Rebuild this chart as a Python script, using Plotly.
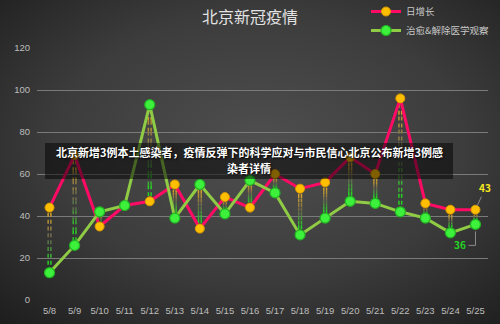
import base64
import plotly.graph_objects as go

dates = ["5/8", "5/9", "5/10", "5/11", "5/12", "5/13", "5/14", "5/15", "5/16",
         "5/17", "5/18", "5/19", "5/20", "5/21", "5/22", "5/23", "5/24", "5/25"]
daily_growth = [44, 69, 35, 45, 47, 55, 34, 49, 44, 60, 53, 56, 68, 60, 96, 46, 43, 43]
recovered = [13, 26, 42, 45, 93, 39, 55, 41, 57, 51, 31, 39, 47, 46, 42, 39, 32, 36]
yticks = [0, 20, 40, 60, 80, 100, 120]
title_text = "北京新冠疫情"
series_names = ["日增长", "治愈&解除医学观察"]
banner_lines = ["北京新增3例本土感染者，疫情反弹下的科学应对与市民信心北京公布新增3例感",
                "染者详情"]

W, H = 500, 324
ML, MR, MT, MB = 37, 12, 48, 24
PW, PH = W - ML - MR, H - MT - MB

FONT = "Noto Sans CJK SC"
xs = list(range(len(dates)))


def px_x(p):
    return (p - ML) / PW


def px_y(p):
    return (H - MB - p) / PH


fig = go.Figure()

# gradient drop lines between the two series
def lerp(c1, c2, t):
    return tuple(int(round(a + (b - a) * t)) for a, b in zip(c1, c2))

top_c = (225, 170, 40)
mid_c = (100, 100, 80)
bot_c = (30, 225, 30)
NSEG = 8
for k in range(NSEG):
    t = (k + 0.5) / NSEG
    c = lerp(top_c, mid_c, t * 2) if t < 0.5 else lerp(mid_c, bot_c, (t - 0.5) * 2)
    color = "rgb(%d,%d,%d)" % c
    for off in (-0.055, 0.055):
        lx, ly = [], []
        for i in xs:
            hi = max(daily_growth[i], recovered[i]) - 2.5
            lo = min(daily_growth[i], recovered[i]) + 2.5
            if hi <= lo:
                continue
            y0 = hi - (hi - lo) * k / NSEG
            y1 = hi - (hi - lo) * (k + 1) / NSEG
            lx += [i + off, i + off, None]
            ly += [y0, y1, None]
        fig.add_trace(go.Scatter(x=lx, y=ly, mode="lines", showlegend=False,
                                 hoverinfo="skip",
                                 line=dict(color=color, width=1.5, dash="4px,3px")))

fig.add_trace(go.Scatter(
    x=xs, y=daily_growth, name=series_names[0], mode="lines+markers",
    line=dict(color="#FF0A64", width=3),
    marker=dict(size=9, color="#FFBE00", line=dict(color="#D89A00", width=1))))
fig.add_trace(go.Scatter(
    x=xs, y=recovered, name=series_names[1], mode="lines+markers",
    line=dict(color="#8FCB45", width=3),
    marker=dict(size=10, color="#3CF03C", line=dict(color="#22B422", width=1.2))))

# background radial gradient
svg = f'''<svg xmlns="http://www.w3.org/2000/svg" width="{W}" height="{H}">
<defs><radialGradient id="g" cx="0.52" cy="0.45" r="0.75">
<stop offset="0" stop-color="#4f4f4f"/><stop offset="0.55" stop-color="#3c3c3c"/>
<stop offset="1" stop-color="#1e1e1e"/></radialGradient></defs>
<rect width="{W}" height="{H}" fill="url(#g)"/></svg>'''
uri = "data:image/svg+xml;base64," + base64.b64encode(svg.encode()).decode()
fig.add_layout_image(dict(source=uri, xref="paper", yref="paper",
                          x=-ML / PW, y=1 + MT / PH, sizex=W / PW, sizey=H / PH,
                          xanchor="left", yanchor="top", sizing="stretch",
                          layer="below"))

# value labels for last points
n = len(dates) - 1
fig.add_annotation(x=n, y=daily_growth[n], text="<b>%d</b>" % daily_growth[n],
                   showarrow=True, ax=10, ay=-22, arrowhead=0, arrowwidth=1,
                   arrowcolor="#8a8a8a", standoff=4,
                   font=dict(family=FONT, size=10, color="#F5E81E"))
fig.add_annotation(x=n, y=recovered[n], text="<b>%d</b>" % recovered[n],
                   showarrow=False, xshift=-15, yshift=-20,
                   font=dict(family=FONT, size=10, color="#22D622"))
fig.add_shape(type="path", xref="x", yref="y", xsizemode="pixel", ysizemode="pixel",
              xanchor=n, yanchor=recovered[n], path="M 0 -7 L 0 -21 L -7 -21",
              line=dict(color="#8a8a8a", width=1))

# banner overlay
fig.add_shape(type="rect", xref="paper", yref="paper", layer="above",
              x0=px_x(45), x1=px_x(453), y0=px_y(179), y1=px_y(143),
              fillcolor="rgba(0,0,0,0.5)", line=dict(width=0))
for line_text, py in zip(banner_lines, (152, 168)):
    fig.add_annotation(xref="paper", yref="paper", x=px_x(249), y=px_y(py),
                       yanchor="middle", text="<b>" + line_text + "</b>",
                       showarrow=False, align="center",
                       font=dict(family=FONT, size=11, color="white",
                                 shadow="1px 1px 2px black"))

fig.update_layout(
    width=W, height=H,
    margin=dict(l=ML, r=MR, t=MT, b=MB, autoexpand=False),
    paper_bgcolor="#2a2a2a", plot_bgcolor="rgba(0,0,0,0)",
    title=dict(text=title_text, x=0.5, xanchor="center", y=1 - 17 / H,
               yanchor="middle", font=dict(family=FONT, size=16, color="#E2E2E2")),
    font=dict(family=FONT, color="#BDBDBD", size=9),
    legend=dict(x=px_x(366), y=px_y(-3), xanchor="left", yanchor="top",
                bgcolor="rgba(0,0,0,0)", font=dict(family=FONT, size=9.5, color="#C8C8C8"),
                tracegroupgap=0, itemwidth=30),
    xaxis=dict(range=[-0.5, len(dates) - 0.5], tickvals=xs, ticktext=dates,
               showgrid=False, zeroline=False, showline=False, ticks="",
               ticklabelstandoff=3,
               tickfont=dict(family="Liberation Sans", size=9.5, color="#BDBDBD")),
    yaxis=dict(range=[0, 120], tickvals=yticks, showgrid=True, gridcolor="#7a7a7a",
               gridwidth=1, zeroline=False, showline=False, ticks="",
               ticklabelstandoff=6,
               tickfont=dict(family="Liberation Sans", size=9.5, color="#BDBDBD")),
    showlegend=True,
)

fig.write_html("out.html")
